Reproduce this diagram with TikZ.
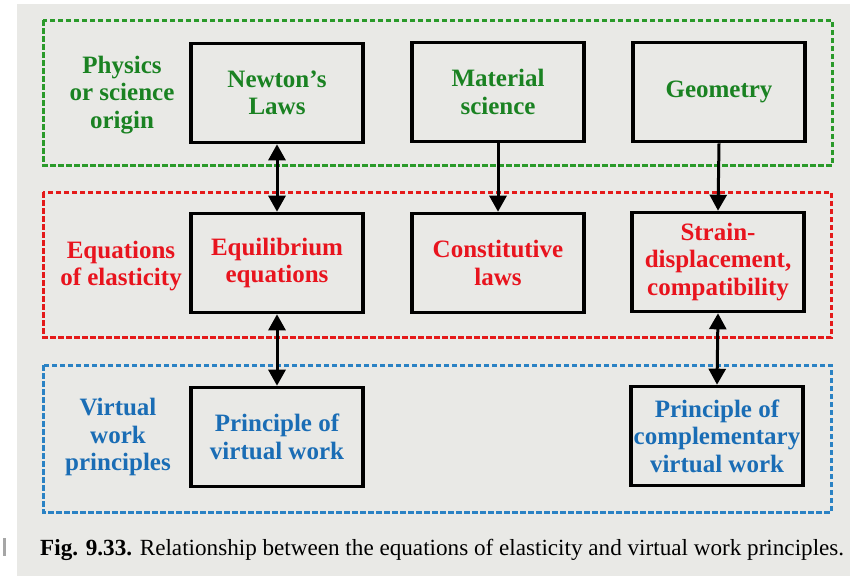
\documentclass[tikz,border=0pt]{standalone}
\usepackage{fontspec}
\usepackage{graphicx}
\setmainfont{Liberation Serif}
\usetikzlibrary{arrows.meta}
\definecolor{pagebg}{HTML}{E9E9E6}
\definecolor{tgreen}{HTML}{1A8222}
\definecolor{tred}{HTML}{E8141E}
\definecolor{tblue}{HTML}{1A6DB5}
\definecolor{dgreen}{HTML}{2A9A2A}
\definecolor{dred}{HTML}{E41A1A}
\definecolor{dblue}{HTML}{2A82C4}
\tikzset{
  x=1pt,y=-1pt,
  bigtext/.style={font=\fontsize{25}{27.5}\selectfont\bfseries, align=center},
  stepbox/.style={draw=black, line width=3.6pt, minimum width=172pt, minimum height=99pt, inner sep=2pt, bigtext},
  grouplabel/.style={bigtext, inner sep=0pt},
  groupframe/.style={line width=3pt, dash pattern=on 5.5pt off 2.5pt},
  conn/.style={line width=3pt, -{Triangle[length=16pt,width=17pt]}},
  dconn/.style={line width=3pt, {Triangle[length=16pt,width=17pt]}-{Triangle[length=16pt,width=17pt]}}
}
\begin{document}
\begin{tikzpicture}
\useasboundingbox (0,0) rectangle (850,576);
\fill[white] (0,0) rectangle (850,576);
\fill[pagebg] (17,4) rectangle (850,576);
\fill[gray!70] (3,538) rectangle (6,556);

% group frames
\draw[groupframe, draw=dgreen] (43,20) rectangle (832,165);
\draw[groupframe, draw=dred] (43,192) rectangle (831,337);
\draw[groupframe, draw=dblue] (43,365) rectangle (831,512);

% group labels
\node[grouplabel, text=tgreen] (lphys) at (122,95) {Physics\\or science\\origin};
\node[grouplabel, text=tred] (lelas) at (121,266) {Equations\\of elasticity};
\node[grouplabel, text=tblue] (lvirt) at (118,437) {Virtual\\work\\principles};

% boxes
\node[stepbox, text=tgreen] (newton) at (277,93) {Newton's\\Laws};
\node[stepbox, text=tgreen] (material) at (498,92) {Material\\science};
\node[stepbox, text=tgreen] (geometry) at (719,92) {Geometry};
\node[stepbox, text=tred] (equil) at (277,263) {Equilibrium\\equations};
\node[stepbox, text=tred] (const) at (498,263) {Constitutive\\laws};
\node[stepbox, text=tred] (strain) at (718,262) {Strain-\\displacement,\\compatibility};
\node[stepbox, text=tblue] (pvw) at (277,437) {Principle of\\virtual work};
\node[stepbox, text=tblue] (pcvw) at (717,436) {Principle of\\complementary\\virtual work};

% connectors
\draw[dconn] (newton.south) -- (equil.north);
\draw[conn] (material.south) -- (const.north);
\draw[conn] (geometry.south) -- (strain.north);
\draw[dconn] (equil.south) -- (pvw.north);
\draw[dconn] (strain.south) -- (pcvw.north);

% caption
\node[inner sep=0pt, anchor=west] (caption) at (40,550) {\resizebox{804pt}{!}{\fontsize{23}{26}\selectfont\textbf{Fig. 9.33.} Relationship between the equations of elasticity and virtual work principles.}};
\end{tikzpicture}
\end{document}
